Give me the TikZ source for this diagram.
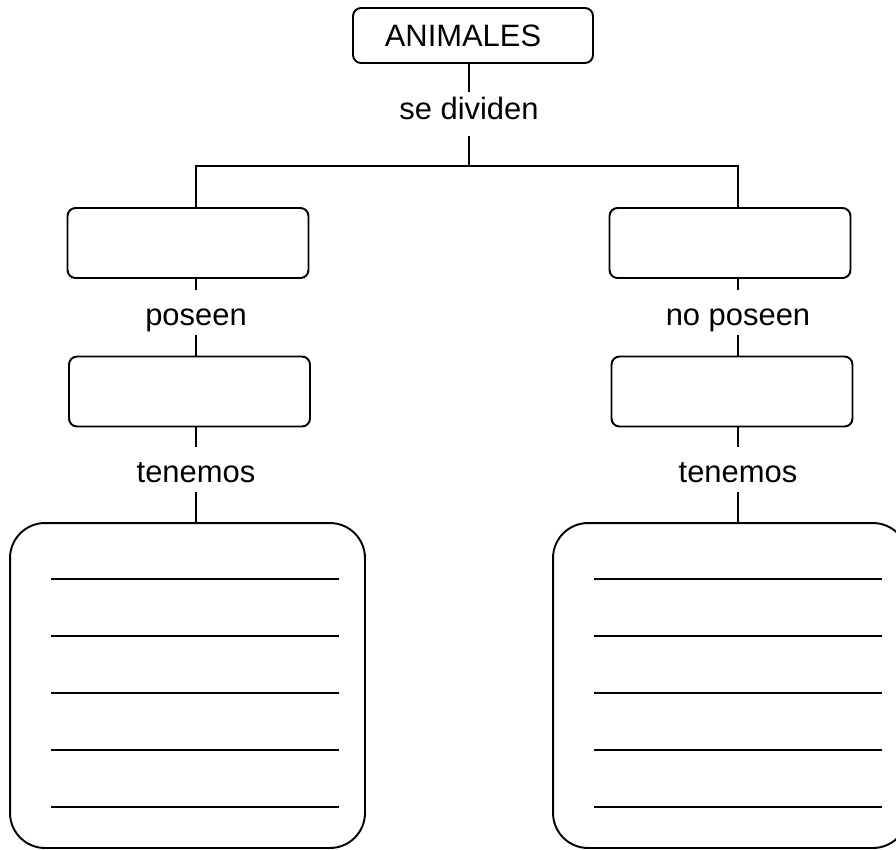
\documentclass[tikz,border=0pt]{standalone}
\usepackage{fontspec}
\setmainfont{Liberation Sans}
\tikzset{
  box/.style={draw, line width=1.1pt, rounded corners=0.16cm, minimum width=4.82cm, minimum height=1.4cm, inner sep=0pt},
  bigbox/.style={draw, line width=1.1pt, rounded corners=0.7cm, minimum width=7.1cm, minimum height=6.5cm, inner sep=0pt},
  link/.style={inner xsep=2pt, inner ysep=0pt, text height=0.7cm, text depth=0.2cm, anchor=base},
  conn/.style={line width=1.1pt},
}
\begin{document}
\begin{tikzpicture}[x=0.02cm, y=-0.02cm, font=\fontsize{17.6}{21}\selectfont]
	\useasboundingbox (0,0) rectangle (896,849);
	% top of the map
	\node [box, minimum width=4.8cm, minimum height=1.1cm] (animales) at (473,35.5) {ANIMALES\kern0.4cm};
	\node [link, text height=0.54cm, text depth=0.34cm] (dividen) at (469,119) {se dividen};
	\coordinate (forkl) at (196,166);
	\coordinate (forkr) at (738,166);
	% two branches
	\node [box] (left1) at (188,243) {};
	\node [box] (right1) at (730,243) {};
	\node [link] (poseen) at (196,325) {poseen};
	\node [link] (noposeen) at (738,325) {no poseen};
	\node [box] (left2) at (189.5,391.5) {};
	\node [box] (right2) at (732,391.5) {};
	\node [link] (tenemosl) at (196,482) {tenemos};
	\node [link] (tenemosr) at (738,482) {tenemos};
	\node [bigbox] (listl) at (187.5,685.5) {};
	\node [bigbox] (listr) at (730.5,685.5) {};
	% connectors
	\draw [conn] (animales.south -| dividen) -- (dividen.north);
	\draw [conn] (dividen.south) -- (dividen.south |- forkl);
	\draw [conn] (left1.north -| forkl) -- (forkl) -- (forkr) -- (right1.north -| forkr);
	\draw [conn] (left1.south -| poseen) -- (poseen.north);
	\draw [conn] (poseen.south) -- (left2.north -| poseen);
	\draw [conn] (right1.south -| noposeen) -- (noposeen.north);
	\draw [conn] (noposeen.south) -- (right2.north -| noposeen);
	\draw [conn] (left2.south -| tenemosl) -- (tenemosl.north);
	\draw [conn] (tenemosl.south) -- (listl.north -| tenemosl);
	\draw [conn] (right2.south -| tenemosr) -- (tenemosr.north);
	\draw [conn] (tenemosr.south) -- (listr.north -| tenemosr);
	% writing lines
	\foreach \grp in {listl,listr}
		\foreach \i in {1,...,5}
			\draw [conn] ([xshift=0.84cm, yshift=-\i*1.14cm]\grp.north west) -- ++(5.76cm,0);
\end{tikzpicture}
\end{document}
